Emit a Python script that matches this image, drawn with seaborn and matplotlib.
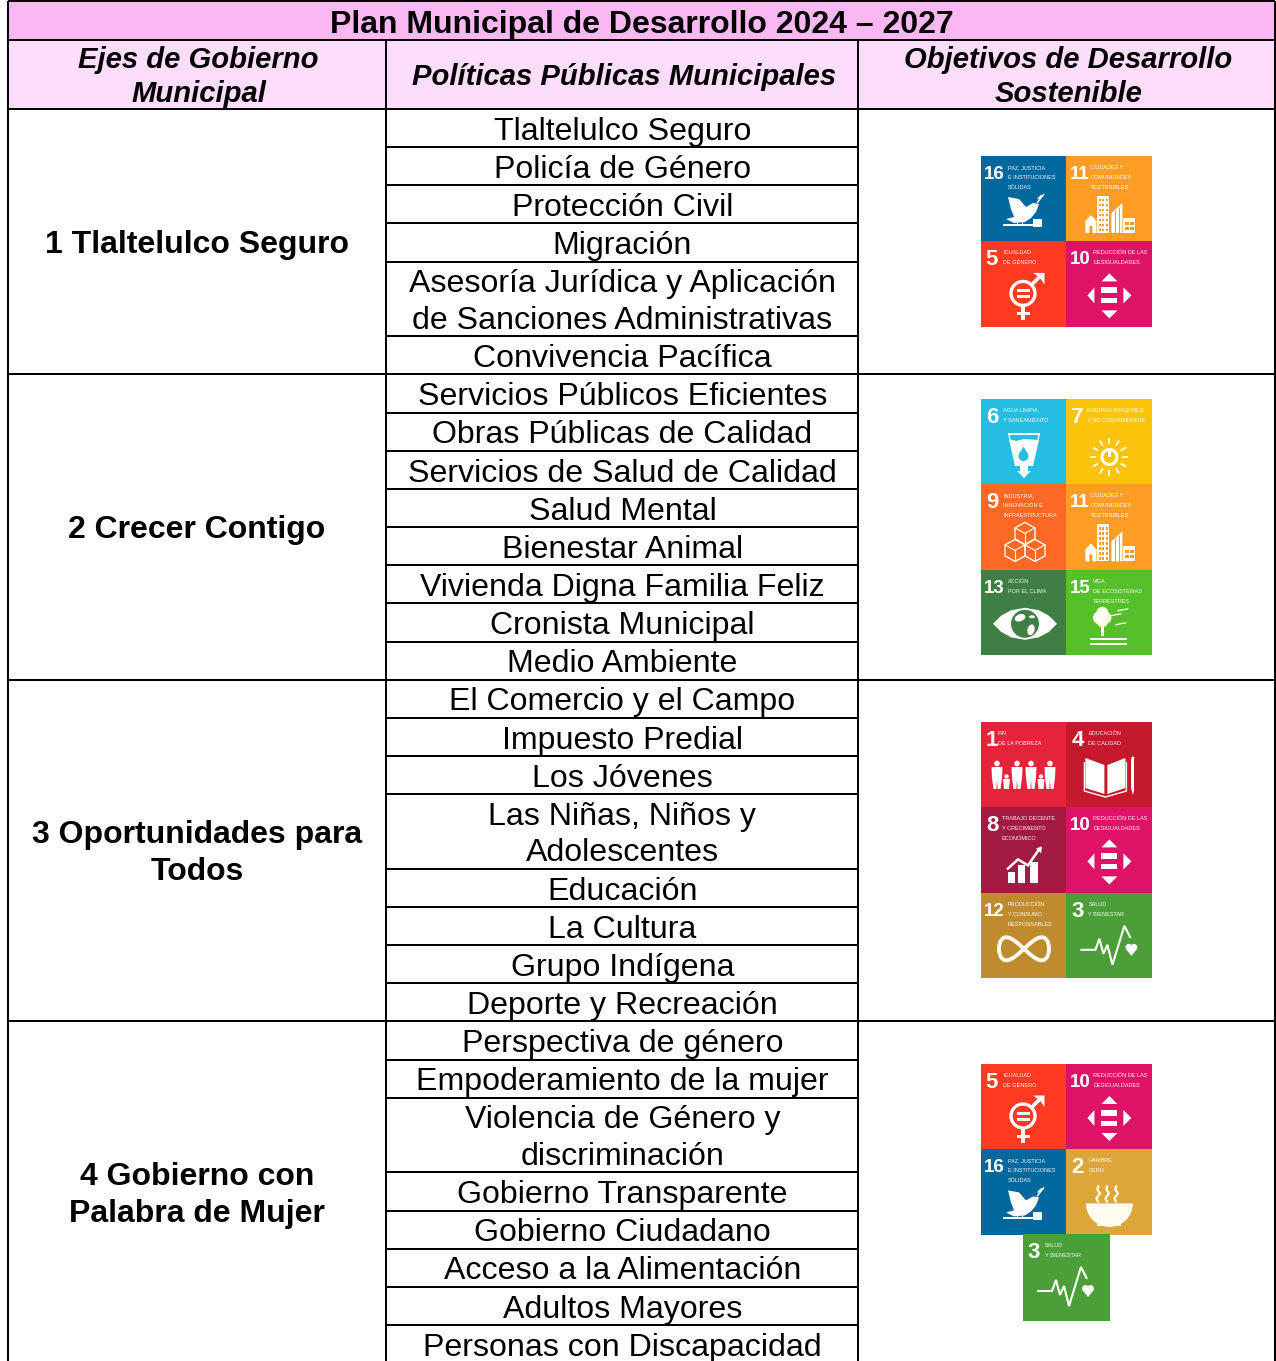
import matplotlib
matplotlib.use("Agg")
import numpy as np
import pandas as pd
import seaborn as sns
import matplotlib.pyplot as plt
from matplotlib.colors import ListedColormap
from matplotlib.patches import Rectangle, Circle, Polygon, Ellipse, Wedge

TITLE = "Plan Municipal de Desarrollo 2024 – 2027"
HEADERS = [["Ejes de Gobierno", "Municipal"], ["Políticas Públicas Municipales"],
           ["Objetivos de Desarrollo", "Sostenible"]]

EJES = [["1 Tlaltelulco Seguro"], ["2 Crecer Contigo"],
        ["3 Oportunidades para", "Todos"], ["4 Gobierno con", "Palabra de Mujer"]]

POL_1 = [["Tlaltelulco Seguro"], ["Policía de Género"], ["Protección Civil"], ["Migración"],
         ["Asesoría Jurídica y Aplicación", "de Sanciones Administrativas"], ["Convivencia Pacífica"]]
POL_2 = [["Servicios Públicos Eficientes"], ["Obras Públicas de Calidad"],
         ["Servicios de Salud de Calidad"], ["Salud Mental"], ["Bienestar Animal"],
         ["Vivienda Digna Familia Feliz"], ["Cronista Municipal"], ["Medio Ambiente"]]
POL_3 = [["El Comercio y el Campo"], ["Impuesto Predial"], ["Los Jóvenes"],
         ["Las Niñas, Niños y", "Adolescentes"], ["Educación"], ["La Cultura"],
         ["Grupo Indígena"], ["Deporte y Recreación"]]
POL_4 = [["Perspectiva de género"], ["Empoderamiento de la mujer"],
         ["Violencia de Género y", "discriminación"], ["Gobierno Transparente"],
         ["Gobierno Ciudadano"], ["Acceso a la Alimentación"], ["Adultos Mayores"],
         ["Personas con Discapacidad"]]
POLITICAS = [POL_1, POL_2, POL_3, POL_4]

ODS_1 = [[16, 11], [5, 10]]
ODS_2 = [[6, 7], [9, 11], [13, 15]]
ODS_3 = [[1, 4], [8, 10], [12, 3]]
ODS_4 = [[5, 10], [16, 2]]
ODS_4B = [[3]]

ODS_NAMES = {
    1: ["FIN", "DE LA POBREZA"], 2: ["HAMBRE", "CERO"], 3: ["SALUD", "Y BIENESTAR"],
    4: ["EDUCACIÓN", "DE CALIDAD"], 5: ["IGUALDAD", "DE GÉNERO"],
    6: ["AGUA LIMPIA", "Y SANEAMIENTO"], 7: ["ENERGÍA ASEQUIBLE", "Y NO CONTAMINANTE"],
    8: ["TRABAJO DECENTE", "Y CRECIMIENTO", "ECONÓMICO"],
    9: ["INDUSTRIA,", "INNOVACIÓN E", "INFRAESTRUCTURA"],
    10: ["REDUCCIÓN DE LAS", "DESIGUALDADES"],
    11: ["CIUDADES Y", "COMUNIDADES", "SOSTENIBLES"],
    12: ["PRODUCCIÓN", "Y CONSUMO", "RESPONSABLES"], 13: ["ACCIÓN", "POR EL CLIMA"],
    15: ["VIDA", "DE ECOSISTEMAS", "TERRESTRES"],
    16: ["PAZ, JUSTICIA", "E INSTITUCIONES", "SÓLIDAS"],
}
ODS_COLORS = ["#E5243B", "#DDA63A", "#4C9F38", "#C5192D", "#FF3A21", "#26BDE2", "#FCC30B",
              "#A21942", "#FD6925", "#DD1367", "#FD9D24", "#BF8B2E", "#3F7E44", "#0A97D9",
              "#56C02B", "#00689D"]

W, H = 1276, 1361
sns.set_theme(style="white")
plt.rcParams["font.family"] = ["Liberation Sans", "DejaVu Sans"]
PT = 72 / 100
FS = 32.1 * PT
FS_BOLD = 31.95 * PT
FS_HEAD = 29.3 * PT
BLACK = "#000000"
LW = 2 * PT

fig = plt.figure(figsize=(W / 100, H / 100), dpi=100, facecolor="white")
ax = fig.add_axes([0, 0, 1, 1], zorder=2)
ax.set_xlim(0, W)
ax.set_ylim(H, 0)
ax.axis("off")
ax.patch.set_alpha(0)

L, C1, C2, R = 8, 386, 858, 1275
ax.add_patch(Rectangle((L, 2), R - L, 38, fc="#FBB7F1", ec="none"))
ax.add_patch(Rectangle((L, 40), R - L, 69, fc="#FDDDFB", ec="none"))

ax.text(641.5, 33, TITLE, ha="center", va="baseline", fontsize=FS_BOLD, fontweight="bold", color=BLACK)
for cx, lines in zip([198.5, 624, 1068.5], HEADERS):
    bases = [85] if len(lines) == 1 else [68, 102]
    for b, t in zip(bases, lines):
        ax.text(cx, b, t, ha="center", va="baseline", fontsize=FS_HEAD, fontweight="bold",
                fontstyle="italic", color=BLACK)

ROW1, EXTRA = 38.15, 36.55
LINE = 36.8
y = 109.0
ax.hlines([1, 40, 109], L, R, color=BLACK, lw=LW)
for eje, pols in zip(EJES, POLITICAS):
    top = y
    for i, p in enumerate(pols):
        h = ROW1 + EXTRA * (len(p) - 1)
        bottom = y + h
        for j, t in enumerate(p):
            ax.text(622.5, bottom - 7.4 - (len(p) - 1 - j) * LINE, t, ha="center", va="baseline",
                    fontsize=FS, color=BLACK)
        if i < len(pols) - 1:
            ax.hlines(bottom, C1, C2, color=BLACK, lw=LW)
        y = bottom
    ax.hlines(y, L, R, color=BLACK, lw=LW)
    mid = (top + y) / 2
    n = len(eje)
    for j, t in enumerate(eje):
        ax.text(197, mid + 11 + (j - (n - 1) / 2) * LINE, t, ha="center", va="baseline",
                fontsize=FS_BOLD, fontweight="bold", color=BLACK)
ax.vlines([L, R], 1, H, color=BLACK, lw=LW)
ax.vlines([C1, C2], 40, H, color=BLACK, lw=LW)

cmap = ListedColormap(ODS_COLORS)


def add_grid(matrix, x0, y0, S=85.4):
    df = pd.DataFrame(matrix)
    nr, nc = df.shape
    w, h = nc * S, nr * S
    a = fig.add_axes([x0 / W, 1 - (y0 + h) / H, w / W, h / H], zorder=1)
    sns.heatmap(df, ax=a, cmap=cmap, vmin=0.5, vmax=16.5, cbar=False,
                xticklabels=False, yticklabels=False, linewidths=0)
    a.set_xlabel("")
    a.set_ylabel("")
    for r, row in enumerate(matrix):
        for c, g in enumerate(row):
            draw_tile(g, x0 + c * S, y0 + r * S)


WHITE = "#FFFFFF"
CREAM = "#FFFDF0"


def draw_tile(g, x0, y0):
    def P(pts):
        return [(x0 + a, y0 + b) for a, b in pts]

    def poly(pts, fc=WHITE, ec="none", lw=0.5):
        ax.add_patch(Polygon(P(pts), closed=True, fc=fc, ec=ec, lw=lw))

    def line(pts, lw=1.4, color=WHITE):
        arr = np.array(P(pts))
        ax.plot(arr[:, 0], arr[:, 1], color=color, lw=lw, solid_capstyle="butt", solid_joinstyle="miter")

    def rect(a, b, w, h, fc=WHITE):
        ax.add_patch(Rectangle((x0 + a, y0 + b), w, h, fc=fc, ec="none"))

    def circ(a, b, r, fc=WHITE, ec="none", lw=0):
        ax.add_patch(Circle((x0 + a, y0 + b), r, fc=fc, ec=ec, lw=lw))

    bg = ODS_COLORS[g - 1]
    if g >= 10:
        ax.text(x0 + 13.5, y0 + 23, str(g), ha="center", va="baseline", fontsize=13.5, fontweight="bold",
                color=WHITE)
    else:
        ax.text(x0 + 11, y0 + 24, str(g), ha="center", va="baseline", fontsize=16, fontweight="bold",
                color=WHITE)
    text_x = {1: 17, 2: 22, 3: 22, 4: 22, 5: 22, 6: 22, 7: 21, 8: 21, 9: 22, 10: 27, 11: 24,
              12: 27, 13: 27, 15: 27, 16: 27}[g]
    for i, t in enumerate(ODS_NAMES[g]):
        ax.text(x0 + text_x, y0 + 13 + i * 10, t, ha="left", va="baseline", fontsize=4.0,
                color=WHITE, alpha=0.95)

    if g == 1:
        for a in (16, 36, 50, 69):
            circ(a, 41.5, 2.8)
            poly([(a - 5.5, 45), (a + 5.5, 45), (a + 5, 56), (a + 3.5, 67), (a + 0.6, 67), (a, 58),
                  (a - 0.6, 67), (a - 3.5, 67), (a - 5, 56)])
        for a in (25.5, 60):
            circ(a, 54.5, 2.2)
            poly([(a - 3.5, 57), (a + 3.5, 57), (a + 2.5, 67), (a - 2.5, 67)])
    elif g == 2:
        ax.add_patch(Wedge((x0 + 43, y0 + 54), 23.5, 0, 180, fc=CREAM, ec="none"))
        rect(31, 74.5, 24, 2, CREAM)
        for a in (32, 41, 50):
            line([(a, 53), (a - 2, 49), (a + 1.5, 44), (a - 1, 40), (a, 36)], 1.6, CREAM)
    elif g == 3:
        line([(14, 57), (29, 57), (33, 46), (37, 61), (41, 52), (46, 72), (58, 33), (64, 45)], 1.5)
        circ(62.5, 54.5, 3.4)
        circ(67.5, 54.5, 3.4)
        poly([(59.3, 56), (70.7, 56), (65, 63)])
    elif g == 4:
        poly([(19, 36), (38, 43), (38, 72), (19, 66)])
        poly([(59, 36), (41, 43), (41, 72), (59, 66)])
        line([(18, 40), (18, 69), (39, 75), (60, 69), (60, 40)], 1.0)
        rect(65, 37, 3, 30)
        poly([(65, 67), (68, 67), (66.5, 73)])
        circ(66.5, 36, 1.5)
    elif g == 5:
        circ(42, 52, 12, fc="none", ec=WHITE, lw=2.4)
        rect(36, 48, 13, 3)
        rect(36, 54, 13, 3)
        rect(40.2, 64, 3.6, 15)
        rect(36, 70.5, 13, 3.5)
        line([(50, 44), (61, 33)], 2.6)
        poly([(52, 31.5), (63.5, 31.5), (63.5, 43), (60, 38), (57, 35)])
    elif g == 6:
        rect(27, 34, 32, 1.7)
        line([(28, 35), (29, 42)], 1.0)
        line([(58, 35), (57, 42)], 1.0)
        poly([(28, 40), (35, 42), (43, 40), (58, 41), (52, 67), (47, 67), (47, 72), (50, 72), (43, 79),
              (36, 72), (39, 72), (39, 67), (34, 67)])
        circ(42.5, 57, 5, fc=bg)
        poly([(38.5, 54.5), (46.5, 54.5), (42.5, 47.5)], fc=bg)
    elif g == 7:
        circ(43, 58, 7.5, fc="none", ec=WHITE, lw=2.2)
        rect(41.8, 50, 2.4, 8)
        for d in np.arange(0, 360, 30):
            c, s = np.cos(np.radians(d)), np.sin(np.radians(d))
            line([(43 + 13 * c, 58 + 13 * s), (43 + 19 * c, 58 + 19 * s)], 1.3)
    elif g == 8:
        rect(27, 65, 7, 11)
        rect(37, 58, 7, 18)
        rect(49, 55, 8, 21)
        line([(26, 62), (37, 52), (47, 58), (58, 42)], 1.8)
        poly([(55, 41), (61, 39), (60, 46)])
    elif g == 9:
        for a, b in ((44, 49), (34, 66), (54, 66)):
            hexa = [(a, b - 11), (a + 10, b - 5.5), (a + 10, b + 5.5), (a, b + 11), (a - 10, b + 5.5),
                    (a - 10, b - 5.5)]
            poly(hexa, fc="none", ec=CREAM, lw=1.0)
            line([(a - 10, b - 5.5), (a, b), (a + 10, b - 5.5)], 0.8, CREAM)
            line([(a, b), (a, b + 11)], 0.8, CREAM)
    elif g == 10:
        poly([(43, 32), (35, 40), (51, 40)])
        poly([(43, 77), (35, 69), (51, 69)])
        poly([(21, 54), (28, 46), (28, 62)])
        poly([(65, 54), (57, 46), (57, 62)])
        rect(35, 46, 16, 5.5)
        rect(35, 57, 16, 5)
    elif g == 11:
        rect(31, 40, 12, 37)
        for a in (33, 36.5, 40):
            for b in range(43, 74, 5):
                rect(a - 0.5, b, 2, 2.4, bg)
        poly([(18, 66), (24.5, 59), (31, 66), (30, 66), (30, 77), (26, 77), (26, 70), (23, 70), (23, 77),
              (19, 77), (19, 66)])
        poly([(45, 77), (45, 57), (56, 47), (56, 77)])
        line([(48.5, 77), (48.5, 54)], 0.7, bg)
        line([(52.5, 77), (52.5, 51)], 0.7, bg)
        rect(57, 62, 12, 15)
        rect(58.5, 66, 9, 3, bg)
        rect(58.5, 71, 9, 3, bg)
        rect(62.5, 66, 1, 9, WHITE)
    elif g == 12:
        t = np.linspace(0, 2 * np.pi, 120)
        curve = np.column_stack([43 + 25 * np.cos(t), 56 + 23 * np.sin(2 * t) / 2])
        line(curve, 2.8, CREAM)
    elif g == 13:
        poly([(12, 54), (20, 46), (30, 40.5), (44, 38), (58, 40.5), (68, 46), (76, 54), (68, 62),
              (58, 67.5), (44, 70), (30, 67.5), (20, 62)])
        circ(44, 54, 14, fc=bg)
        ax.add_patch(Ellipse((x0 + 39, y0 + 48), 11, 7, angle=-20, fc=WHITE, ec="none"))
        ax.add_patch(Ellipse((x0 + 50, y0 + 60), 7, 11, angle=15, fc=WHITE, ec="none"))
        ax.add_patch(Ellipse((x0 + 51, y0 + 47), 6, 3, fc=WHITE, ec="none"))
    elif g == 15:
        circ(33, 48, 6.5, fc=CREAM)
        circ(39, 48, 6, fc=CREAM)
        circ(36, 43, 6, fc=CREAM)
        circ(36, 52, 5.5, fc=CREAM)
        rect(35, 55, 2.4, 11, CREAM)
        rect(24, 68.5, 37, 1.6, CREAM)
        rect(24, 73.5, 37, 1.6, CREAM)
        for a, b in ((49, 45), (56, 40), (54, 54)):
            line([(a - 5, b + 1), (a, b), (a + 6, b - 1)], 0.9, CREAM)
    elif g == 16:
        poly([(27, 41), (38, 43), (45, 51), (52, 47), (58, 48), (55, 56), (50, 62), (44, 66), (33, 67),
              (25, 63), (33, 61), (30, 53)])
        line([(56, 47), (63, 38)], 1.0)
        for a, b in ((58, 42), (60, 40)):
            ax.add_patch(Ellipse((x0 + a, y0 + b), 4, 1.8, angle=-30, fc=WHITE, ec="none"))
        rect(22, 68, 33, 1.7)
        rect(52, 63, 9, 8)
        rect(36, 66, 1.2, 3)
        rect(41, 66, 1.2, 3)


add_grid(ODS_1, 981, 156)
add_grid(ODS_2, 981, 399)
add_grid(ODS_3, 981, 722)
add_grid(ODS_4, 981, 1064)
add_grid(ODS_4B, 1023, 1234, S=87)

fig.savefig("out.png", dpi=100, facecolor="white")
